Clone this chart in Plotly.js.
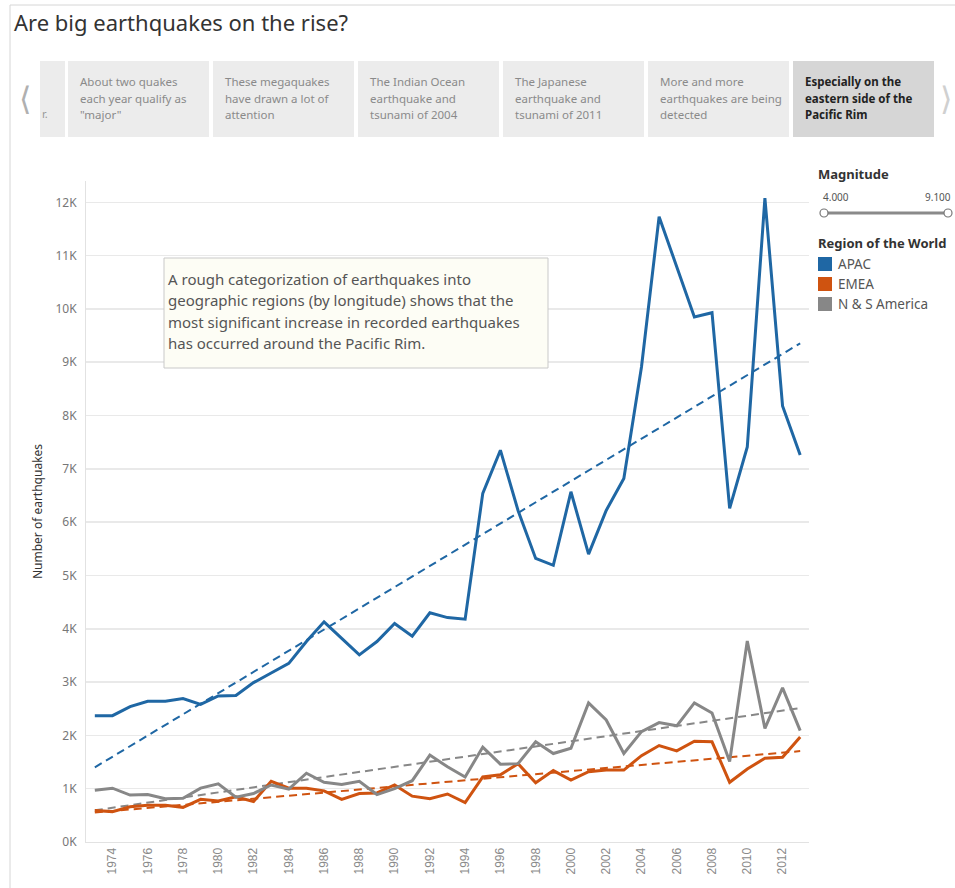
<!DOCTYPE html>
<html>
<head>
<meta charset="utf-8">
<script src="https://cdn.plot.ly/plotly-3.0.1.min.js"></script>
<style>
  html, body { margin: 0; padding: 0; background: #ffffff; }
  #chart { width: 955px; height: 888px; }
</style>
</head>
<body>
<div id="chart"></div>
<script>
// ---- Data ----
const years = [1973, 1974, 1975, 1976, 1977, 1978, 1979, 1980, 1981, 1982,
               1983, 1984, 1985, 1986, 1987, 1988, 1989, 1990, 1991, 1992,
               1993, 1994, 1995, 1996, 1997, 1998, 1999, 2000, 2001, 2002,
               2003, 2004, 2005, 2006, 2007, 2008, 2009, 2010, 2011, 2012, 2013];

const apac = [2370, 2370, 2540, 2640, 2640, 2690, 2580, 2740, 2750, 2990,
              3170, 3350, 3760, 4130, 3820, 3510, 3760, 4100, 3860, 4300,
              4210, 4180, 6540, 7350, 6220, 5320, 5190, 6570, 5400, 6220,
              6820, 8910, 11730, 10790, 9850, 9930, 6260, 7410, 12080, 8180, 7260];

const emea = [590, 570, 660, 690, 690, 650, 800, 770, 850, 760,
              1140, 1010, 1010, 960, 800, 910, 920, 1070, 860, 810,
              900, 740, 1220, 1260, 1470, 1110, 1340, 1160, 1320, 1350,
              1350, 1620, 1810, 1710, 1890, 1880, 1120, 1370, 1570, 1590, 1970];

const americas = [970, 1010, 880, 890, 810, 820, 1010, 1090, 840, 910,
                  1070, 990, 1290, 1120, 1080, 1140, 890, 1000, 1150, 1630,
                  1410, 1220, 1780, 1460, 1470, 1880, 1660, 1760, 2610, 2290,
                  1660, 2070, 2240, 2180, 2610, 2420, 1510, 3770, 2130, 2890, 2090];

const regionNames = ["APAC", "EMEA", "N & S America"];
const regionColors = ["#1f67a4", "#cf5310", "#878787"];

const yTickVals = [0, 1000, 2000, 3000, 4000, 5000, 6000, 7000, 8000, 9000, 10000, 11000, 12000];
const yTickText = ["0K", "1K", "2K", "3K", "4K", "5K", "6K", "7K", "8K", "9K", "10K", "11K", "12K"];
const xTickVals = [1974, 1976, 1978, 1980, 1982, 1984, 1986, 1988, 1990, 1992,
                   1994, 1996, 1998, 2000, 2002, 2004, 2006, 2008, 2010, 2012];

const storyPoints = [
  ["About two quakes", "each year qualify as", "\"major\""],
  ["These megaquakes", "have drawn a lot of", "attention"],
  ["The Indian Ocean", "earthquake and", "tsunami of 2004"],
  ["The Japanese", "earthquake and", "tsunami of 2011"],
  ["More and more", "earthquakes are being", "detected"],
  ["Especially on the", "eastern side of the", "Pacific Rim"]
];

const noteLines = [
  "A rough categorization of earthquakes into",
  "geographic regions (by longitude) shows that the",
  "most significant increase in recorded earthquakes",
  "has occurred around the Pacific Rim."
];

// ---- Linear trend (least squares) computed from each series ----
function trend(xs, ys) {
  const n = xs.length;
  let sx = 0, sy = 0, sxx = 0, sxy = 0;
  for (let i = 0; i < n; i++) { sx += xs[i]; sy += ys[i]; sxx += xs[i]*xs[i]; sxy += xs[i]*ys[i]; }
  const b = (n*sxy - sx*sy) / (n*sxx - sx*sx);
  const a = (sy - b*sx) / n;
  const x0 = xs[0], x1 = xs[n-1];
  return { x: [x0, x1], y: [a + b*x0, a + b*x1] };
}

const seriesList = [apac, emea, americas];
const traces = [];
seriesList.forEach((s, i) => {
  const t = trend(years, s);
  traces.push({
    type: "scatter", mode: "lines", x: t.x, y: t.y,
    line: { color: regionColors[i], width: 2, dash: "8px,5px" },
    hoverinfo: "skip", showlegend: false
  });
});
seriesList.forEach((s, i) => {
  traces.push({
    type: "scatter", mode: "lines", name: regionNames[i], x: years, y: s,
    line: { color: regionColors[i], width: 3 },
    showlegend: false
  });
});

// ---- pixel helpers for decorations ----
const L = 86, R = 809, T = 181, B = 842;
const W = R - L, H = B - T;
const px = v => (v - L) / W;
const py = v => (B - v) / H;

const shapes = [];
const annotations = [];
const FONT = "Noto Sans, Open Sans, sans-serif";

// outer dashboard frame
shapes.push({ type: "line", xref: "paper", yref: "paper", x0: px(10), x1: px(955), y0: py(5), y1: py(5), line: { color: "#d6d6d6", width: 1 } });
shapes.push({ type: "line", xref: "paper", yref: "paper", x0: px(10), x1: px(10), y0: py(5), y1: py(888), line: { color: "#d6d6d6", width: 1 } });

// title
annotations.push({ xref: "paper", yref: "paper", x: px(12), y: py(22), xanchor: "left", yanchor: "middle",
  text: "Are big earthquakes on the rise?", showarrow: false, font: { family: FONT, size: 22, color: "#333333" } });

// story point boxes
shapes.push({ type: "rect", xref: "paper", yref: "paper", x0: px(40), x1: px(65), y0: py(137), y1: py(61), fillcolor: "#ececec", line: { width: 0 } });
annotations.push({ xref: "paper", yref: "paper", x: px(40), y: py(114), xanchor: "left", yanchor: "middle",
  text: "r.", showarrow: false, font: { family: FONT, size: 11, color: "#999999" } });
storyPoints.forEach((lines, i) => {
  const x0 = 68 + i * 145;
  const sel = i === storyPoints.length - 1;
  shapes.push({ type: "rect", xref: "paper", yref: "paper", x0: px(x0), x1: px(x0 + 141), y0: py(137), y1: py(61),
    fillcolor: sel ? "#d6d6d6" : "#ececec", line: { width: 0 } });
  lines.forEach((ln, j) => {
    annotations.push({ xref: "paper", yref: "paper", x: px(x0 + 10), y: py(81 + j * 17), xanchor: "left", yanchor: "middle",
      text: sel ? "<b>" + ln + "</b>" : ln, align: "left", showarrow: false,
      font: { family: FONT, size: 11.5, color: sel ? "#222222" : "#8a8a8a" } });
  });
});
annotations.push({ xref: "paper", yref: "paper", x: px(25), y: py(99), xanchor: "center", yanchor: "middle",
  text: "&#10216;", showarrow: false, font: { family: "DejaVu Sans", size: 32, color: "#b0b0b0" } });
annotations.push({ xref: "paper", yref: "paper", x: px(954), y: py(99), xanchor: "right", yanchor: "middle",
  text: "&#10217;", showarrow: false, font: { family: "DejaVu Sans", size: 32, color: "#d0d0d0" } });

// annotation note box
shapes.push({ type: "rect", xref: "paper", yref: "paper", x0: px(164), x1: px(548), y0: py(368), y1: py(258),
  fillcolor: "#fdfdf5", line: { color: "#c9c9c9", width: 1 } });
noteLines.forEach((ln, j) => {
  annotations.push({ xref: "paper", yref: "paper", x: px(166), y: py(279 + j * 21.3), xanchor: "left", yanchor: "middle",
    text: ln, align: "left", showarrow: false, font: { family: FONT, size: 15, color: "#555555" } });
});

// Magnitude slider
annotations.push({ xref: "paper", yref: "paper", x: px(816), y: py(174), xanchor: "left", yanchor: "middle",
  text: "<b>Magnitude</b>", showarrow: false, font: { family: FONT, size: 13, color: "#333333" } });
annotations.push({ xref: "paper", yref: "paper", x: px(821), y: py(197), xanchor: "left", yanchor: "middle",
  text: "4.000", showarrow: false, font: { family: FONT, size: 10, color: "#555555" } });
annotations.push({ xref: "paper", yref: "paper", x: px(953), y: py(197), xanchor: "right", yanchor: "middle",
  text: "9.100", showarrow: false, font: { family: FONT, size: 10, color: "#555555" } });
shapes.push({ type: "line", xref: "paper", yref: "paper", x0: px(825), x1: px(947), y0: py(213), y1: py(213), line: { color: "#8a8a8a", width: 3 } });
[824, 948].forEach(cx => {
  shapes.push({ type: "circle", xref: "paper", yref: "paper", x0: px(cx - 4), x1: px(cx + 4), y0: py(209), y1: py(217),
    fillcolor: "#ffffff", line: { color: "#777777", width: 1.2 } });
});

// Region legend
annotations.push({ xref: "paper", yref: "paper", x: px(816), y: py(243), xanchor: "left", yanchor: "middle",
  text: "<b>Region of the World</b>", showarrow: false, font: { family: FONT, size: 13, color: "#333333" } });
regionNames.forEach((nm, i) => {
  const cy = 264 + i * 20;
  shapes.push({ type: "rect", xref: "paper", yref: "paper", x0: px(818), x1: px(832), y0: py(cy + 7), y1: py(cy - 7),
    fillcolor: regionColors[i], line: { width: 0 } });
  annotations.push({ xref: "paper", yref: "paper", x: px(836), y: py(cy), xanchor: "left", yanchor: "middle",
    text: nm, showarrow: false, font: { family: FONT, size: 13.5, color: "#555555" } });
});

const layout = {
  width: 955, height: 888,
  margin: { l: L, r: 955 - R, t: T, b: 888 - B, pad: 0 },
  paper_bgcolor: "#ffffff", plot_bgcolor: "#ffffff",
  showlegend: false,
  xaxis: {
    range: [1972.5, 2013.5], tickvals: xTickVals, ticktext: xTickVals.map(String), tickangle: -90,
    tickfont: { family: "Liberation Sans, Arial, sans-serif", size: 12, color: "#8a8a8a" },
    showgrid: false, zeroline: false, showline: true, linecolor: "#e2e2e2", linewidth: 1,
    ticks: "", fixedrange: true
  },
  yaxis: {
    range: [0, 12400], tickvals: yTickVals, ticktext: yTickText,
    tickfont: { family: FONT, size: 12, color: "#777777" },
    showgrid: true, gridcolor: "#e9e9e9", gridwidth: 1.5, zeroline: false,
    showline: true, linecolor: "#e2e2e2", linewidth: 1, ticks: "", ticklabelstandoff: 6,
    title: { text: "Number of earthquakes", font: { family: FONT, size: 12, color: "#333333" }, standoff: 10 },
    fixedrange: true
  },
  shapes: shapes,
  annotations: annotations
};

Plotly.newPlot("chart", traces, layout, { displayModeBar: false, staticPlot: true });
</script>
</body>
</html>
